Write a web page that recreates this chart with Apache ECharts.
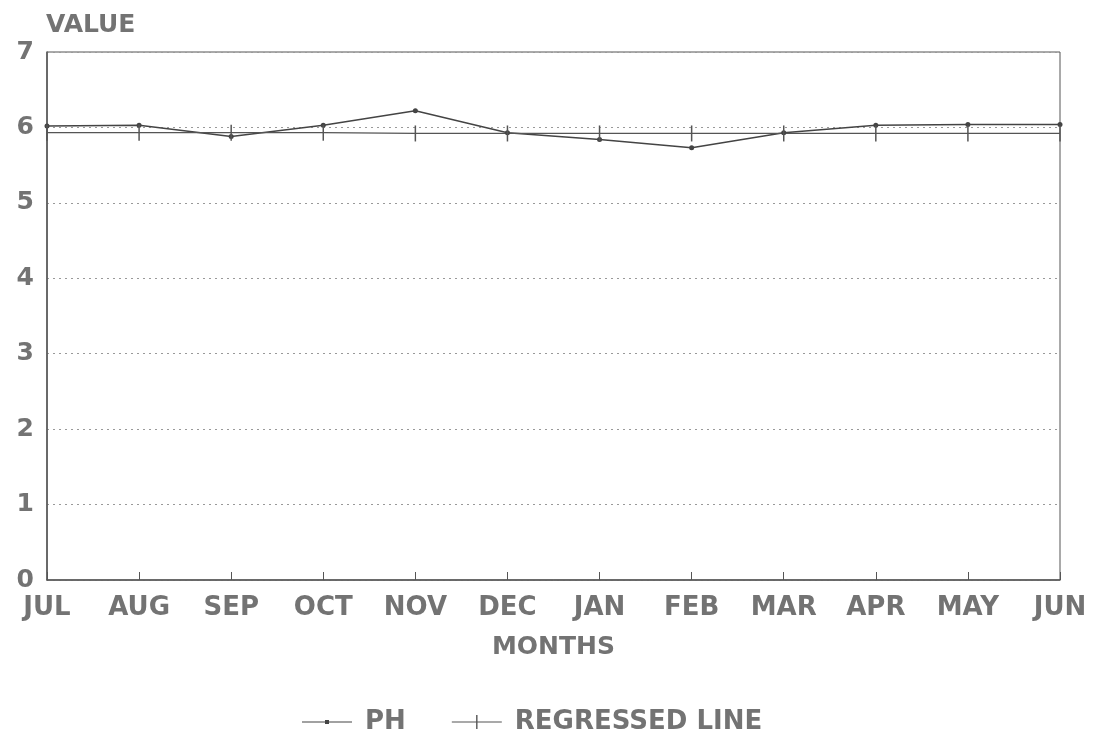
<!DOCTYPE html>
<html>
<head>
<meta charset="utf-8">
<script src="https://cdn.jsdelivr.net/npm/echarts@6/dist/echarts.min.js"></script>
<style>
  html, body { margin: 0; padding: 0; background: #fff; }
  #chart { width: 1099px; height: 738px; }
</style>
</head>
<body>
<div id="chart"></div>
<script>
var months = ['JUL', 'AUG', 'SEP', 'OCT', 'NOV', 'DEC', 'JAN', 'FEB', 'MAR', 'APR', 'MAY', 'JUN']
var phValues = [6.02, 6.03, 5.88, 6.03, 6.22, 5.93, 5.84, 5.73, 5.93, 6.03, 6.04, 6.04]
var regressedValues = [5.93, 5.93, 5.93, 5.93, 5.92, 5.92, 5.92, 5.92, 5.92, 5.92, 5.92, 5.92]
var yTicks = [0, 1, 2, 3, 4, 5, 6, 7]

var ink = '#555'
var textColor = '#737373'
var font = 'DejaVu Sans'

// legend icons: line with a dot / line with a vertical tick
var phIcon = 'path://M0,1.5 L50,1.5 L50,2.5 L0,2.5 Z M23,0 L27,0 L27,4 L23,4 Z'
var regIcon = 'path://M0,6.5 L50,6.5 L50,7.5 L0,7.5 Z M24.3,0 L25.7,0 L25.7,14 L24.3,14 Z'

var chart = echarts.init(document.getElementById('chart'))
chart.setOption({
  animation: false,
  backgroundColor: '#fff',
  title: {
    text: 'VALUE',
    left: 46,
    top: 13,
    padding: 0,
    textStyle: { color: textColor, fontFamily: font, fontWeight: 'bold', fontSize: 25 }
  },
  grid: {
    left: 47,
    right: 39,
    top: 52,
    bottom: 158,
    show: true,
    borderColor: ink,
    borderWidth: 1
  },
  legend: {
    top: 709,
    left: 302,
    padding: 0,
    itemWidth: 50,
    itemHeight: 14,
    itemGap: 46,
    symbolKeepAspect: true,
    textStyle: { color: textColor, fontFamily: font, fontWeight: 'bold', fontSize: 26, padding: [0, 0, 0, 8] },
    data: [
      { name: 'PH', icon: phIcon, itemStyle: { color: '#444' } },
      { name: 'REGRESSED LINE', icon: regIcon, itemStyle: { color: '#555' } }
    ]
  },
  xAxis: {
    type: 'category',
    data: months,
    boundaryGap: false,
    name: 'MONTHS',
    nameLocation: 'middle',
    nameGap: 55,
    nameTextStyle: { color: textColor, fontFamily: font, fontWeight: 'bold', fontSize: 25 },
    axisLine: { lineStyle: { color: ink, width: 1.5 } },
    axisTick: { inside: true, length: 8, lineStyle: { color: ink } },
    axisLabel: { color: textColor, fontFamily: font, fontWeight: 'bold', fontSize: 26, margin: 15 },
    splitLine: { show: false }
  },
  yAxis: {
    type: 'value',
    min: yTicks[0],
    max: yTicks[yTicks.length - 1],
    interval: 1,
    axisLine: { show: true, lineStyle: { color: ink, width: 1.5 } },
    axisTick: { show: false },
    axisLabel: { color: textColor, fontFamily: font, fontWeight: 'bold', fontSize: 25, margin: 13 },
    splitLine: {
      show: true,
      lineStyle: { color: '#999', type: [2, 4], width: 1 }
    }
  },
  series: [
    {
      name: 'PH',
      type: 'line',
      data: phValues,
      symbol: 'circle',
      symbolSize: 5,
      itemStyle: { color: '#444' },
      lineStyle: { color: '#444', width: 1.5 }
    },
    {
      name: 'REGRESSED LINE',
      type: 'line',
      data: regressedValues,
      symbol: 'rect',
      symbolSize: [1.5, 16],
      itemStyle: { color: '#555' },
      lineStyle: { color: '#555', width: 1.2 }
    }
  ]
})
</script>
</body>
</html>
